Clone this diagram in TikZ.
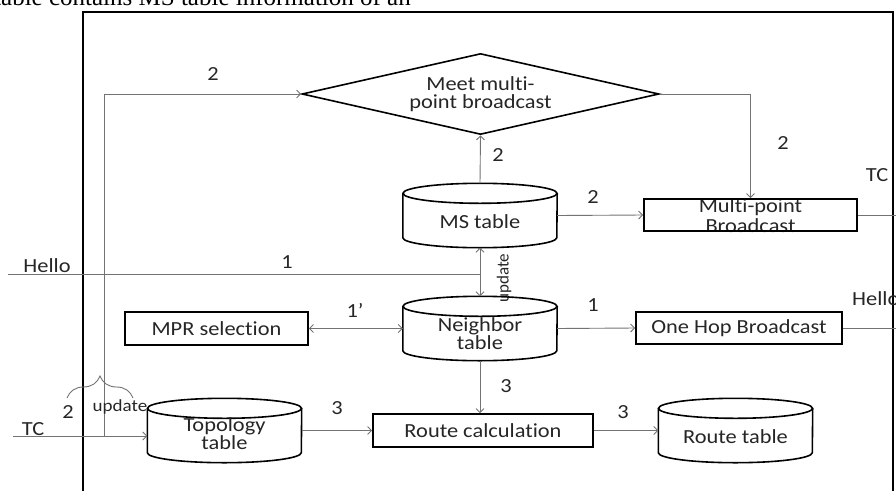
\documentclass[tikz,border=0pt]{standalone}
\usepackage{fontspec}
\setmainfont{Carlito}[FakeStretch=1.12,Ligatures={NoCommon}]
\newfontfamily\plainfont{Carlito}[Ligatures={NoCommon}]
\newfontfamily\serifrm{Liberation Serif}
\usetikzlibrary{shapes.geometric,arrows.meta,decorations.pathreplacing,calc}
\newcommand\lblfont{\fontsize{20}{18}\selectfont}
\newcommand\smallfont{\fontsize{17}{17}\selectfont}
\newcommand\drawcyl[1]{%
  \draw[shapeline,fill=white] ($(#1.north west)+(0,10)$) -- ($(#1.south west)+(0,-10)$)
     arc[start angle=180,end angle=0,x radius=77,y radius=10] -- ($(#1.north east)+(0,10)$);
  \draw[shapeline] ($(#1.north)+(0,10)$) ellipse[x radius=77,y radius=10];}
\begin{document}
\begin{tikzpicture}[x=1pt,y=-1pt,
  conn/.style={draw=black!55, line width=0.9pt},
  arr/.style={conn,-{Straight Barb[length=4pt,width=8pt]}},
  darr/.style={conn,{Straight Barb[length=4pt,width=8pt]}-{Straight Barb[length=4pt,width=8pt]}},
  shapeline/.style={draw=black,line width=1.6pt},
  box/.style={shapeline,rectangle,inner sep=0pt,font=\lblfont,text=black!85},
  cylbox/.style={rectangle,inner sep=0pt,minimum width=154pt,minimum height=64pt},
  lbl/.style={font=\lblfont,text=black!85,inner sep=0pt,align=center},
  ]
\useasboundingbox (0,0) rectangle (896,490);
\clip (0,0) rectangle (896,490);
% top text
\node[anchor=base west,font=\serifrm\fontsize{25}{25}\selectfont,inner sep=0pt] (toptext) at (-6,5) {table contains MS table information of an};
% frame
\draw[line width=2.4pt] (83,500) -- (83,12) -- (893,12) -- (893,500);
% nodes
\node[diamond,shapeline,minimum width=357pt,minimum height=81pt,shape aspect=4.4,inner sep=0pt,align=center,font=\lblfont,text=black!85] (dm) at (480.5,94) {Meet multi-\\point broadcast};
\node[cylbox] (ms) at (480,215.5) {};
\node[cylbox] (nb) at (480,328.5) {};
\node[cylbox] (topo) at (224.5,430.5) {};
\node[cylbox] (rt) at (735.5,430.5) {};
\drawcyl{ms}
\drawcyl{nb}
\drawcyl{topo}
\drawcyl{rt}
\node[lbl] (mst) at ($(ms)+(0,6)$) {MS table};
\node[lbl] (nbt) at ($(nb)+(0,5)$) {Neighbor\\table};
\node[lbl] (topot) at ($(topo)+(0,3)$) {Topology\\table};
\node[lbl] (rtt) at ($(rt)+(0,6)$) {Route table};
\node[lbl,font=\fontsize{20}{20.5}\selectfont] (mpt) at (750.5,215.5) {Multi-point\\Broadcast};
\node[box,minimum width=213pt,minimum height=32pt] (mp) at (750.5,215) {};
\node[box,minimum width=183pt,minimum height=33pt] (mpr) at (216.5,328.5) {MPR selection};
\node[box,minimum width=206pt,minimum height=32pt] (oh) at (739,328) {One Hop Broadcast};
\node[box,minimum width=220pt,minimum height=33pt] (rc) at (483,430.5) {Route calculation};
% coordinates
\coordinate (tcs) at (13,436);
\coordinate (tcj) at (104,436);
\coordinate (tcout) at (900,215);
\coordinate (hin) at (8,274);
\coordinate (hj) at (480,274);
\coordinate (hout) at (900,328);
% connectors
\draw[arr] (tcs) -- (topo.west |- tcs);
\draw[arr] (tcj) |- (dm.west);
\draw[arr] (dm.east) -| (mp.north);
\draw[arr] (ms.north) -- (dm.south);
\draw[arr] (ms.east) -- (mp.west);
\draw[conn] (mp.east) -- (tcout);
\draw[conn] (hin) -- (hj);
\draw[darr] (ms.south) -- (nb.north);
\draw[darr] (mpr.east) -- (nb.west);
\draw[arr] (nb.east) -- (oh.west);
\draw[conn] (oh.east) -- (hout);
\draw[arr] (nb.south) -- (nb.south |- rc.north);
\draw[arr] (rc.east) -- (rt.west);
\draw[arr] (topo.east) -- (rc.west);
\draw[conn,decorate,decoration={brace,amplitude=22pt}] (67,398) -- (133,398);
% labels
\node[lbl] (l1) at (213,74) {2};
\node[lbl] (l2) at (783,143) {2};
\node[lbl] (l3) at (498,155) {2};
\node[lbl] (l4) at (593,197) {2};
\node[lbl] (l5) at (877,175) {TC};
\node[lbl] (l6) at (47,266) {Hello};
\node[lbl] (l7) at (287,262) {1};
\node[lbl] (l8) at (355,310) {1’};
\node[lbl] (l9) at (593,305) {1};
\node[lbl,anchor=west] (l10) at (852,299) {Hello};
\node[lbl] (l11) at (506,386) {3};
\node[lbl] (l12) at (623,412) {3};
\node[lbl] (l13) at (337,408) {3};
\node[lbl] (l14) at (68,412) {2};
\node[lbl,font=\smallfont] (l15) at (120,407) {update};
\node[lbl,font=\plainfont\smallfont,rotate=90] (l16) at (504,278) {update};
\node[lbl] (l17) at (33,429) {TC};
\end{tikzpicture}
\end{document}
